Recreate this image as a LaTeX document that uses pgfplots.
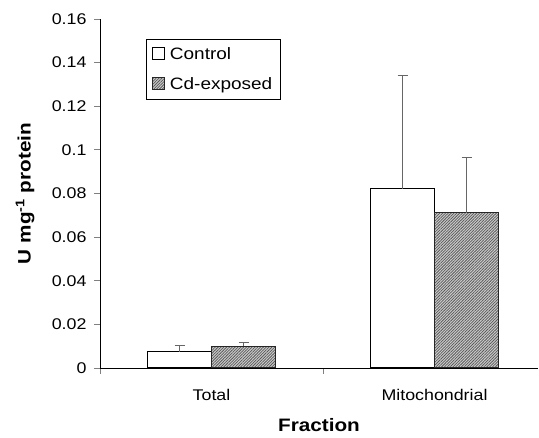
\documentclass[border=0pt]{standalone}
\usepackage{pgfplots}
\pgfplotsset{compat=1.18}
\usepackage{fontspec}
\setmainfont{Liberation Sans}[FakeStretch=1.15]
\usetikzlibrary{patterns.meta}

\begin{document}
\begin{tikzpicture}
\begin{axis}[
  scale only axis,
  width=438pt, height=349pt,
  xmin=0, xmax=1.964,
  ymin=0, ymax=0.16,
  axis x line*=bottom, axis y line*=left,
  axis line style={-, line width=0.8pt},
  xtick={0.5,1.5},
  xticklabels={Total, Mitochondrial},
  major x tick style={draw=none},
  minor xtick={0,1},
  minor x tick style={line width=0.8pt},
  minor tick length=6pt,
  xtick align=outside, ytick align=outside,
  ytick={0,0.02,...,0.16},
  major tick length=6pt,
  y tick style={line width=0.8pt},
  scaled y ticks=false,
  yticklabel style={/pgf/number format/fixed, /pgf/number format/precision=2, xshift=-4pt},
  /pgf/number format/assume math mode=true,
  tick label style={font=\fontsize{15.5}{17}\selectfont},
  xticklabel style={yshift=-12pt},
  xlabel={\textbf{Fraction}},
  ylabel={\textbf{U mg\textsuperscript{-1} protein}},
  label style={font=\fontsize{18}{20}\selectfont},
  xlabel style={yshift=-11pt},
  ylabel style={at={(-75pt,174.5pt)}, anchor=center},
  ybar, bar width=0.287, bar shift=0pt,
  error bars/y dir=plus, error bars/y explicit,
  error bars/error mark options={rotate=90, mark size=5pt, line width=1pt, draw=black!60},
  error bars/error bar style={line width=1pt, draw=black!60},
  legend style={at={(46pt,329pt)}, anchor=north west, draw=black, line width=0.8pt,
    font=\fontsize{16.5}{18}\selectfont, inner xsep=6pt, inner ysep=6pt,
    row sep=13pt, column sep=3pt, cells={anchor=west}},
  legend image code/.code={\draw[#1, line width=0.6pt] (0pt,-5pt) rectangle (12pt,7pt);},
]
% Control
\addplot[draw=black, line width=1pt, fill=white, bar shift=-0.1435]
  coordinates {(0.5,0.0075) +- (0,0.0027) (1.5,0.0821) +- (0,0.0519)};
\addlegendentry{Control}
% Cd-exposed
\addplot[draw=black!85, line width=1pt, fill=black!20,
  postaction={pattern={Lines[angle=45, distance=2pt, line width=0.75pt]}, pattern color=black!65},
  bar shift=0.1435]
  coordinates {(0.5,0.0100) +- (0,0.0018) (1.5,0.0711) +- (0,0.0252)};
\addlegendentry{Cd-exposed}
\end{axis}
\path (current axis.south west) ++(-100pt,-70pt) rectangle ++(539pt,438pt);
\end{tikzpicture}
\end{document}
